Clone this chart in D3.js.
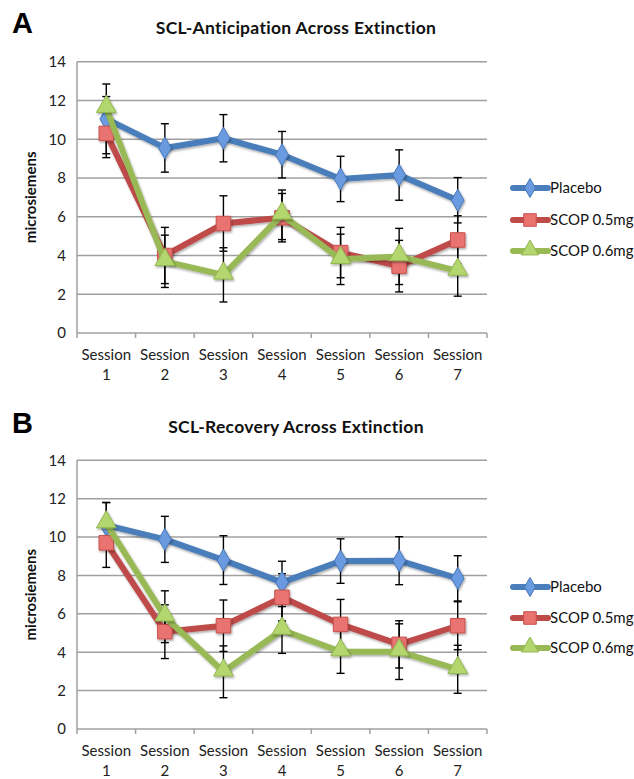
<!DOCTYPE html>
<html>
<head>
<meta charset="utf-8">
<script src="https://cdn.jsdelivr.net/npm/d3@7"></script>
<style>
  body { margin: 0; background: #fff; }
  svg { display: block; font-family: Lato, "Open Sans", sans-serif; }
</style>
</head>
<body>
<div id="chart"></div>
<script>
const sessions = ['1', '2', '3', '4', '5', '6', '7'];
const seriesNames = ['Placebo', 'SCOP 0.5mg', 'SCOP 0.6mg'];
const yTicks = [0, 2, 4, 6, 8, 10, 12, 14];

// Panel A: SCL-Anticipation
const antPlacebo = [11.05, 9.55, 10.05, 9.2, 7.95, 8.15, 6.85];
const antPlaceboErr = [1.8, 1.25, 1.22, 1.2, 1.17, 1.3, 1.17];
const antScop05 = [10.3, 4.0, 5.65, 5.95, 4.15, 3.45, 4.8];
const antScop05Err = [1.25, 1.45, 1.43, 1.25, 1.3, 1.33, 1.25];
const antScop06 = [11.6, 3.7, 3.0, 6.1, 3.8, 3.95, 3.2];
const antScop06Err = [0.6, 1.35, 1.4, 1.28, 1.3, 1.45, 1.3];

// Panel B: SCL-Recovery
const recPlacebo = [10.62, 9.88, 8.8, 7.64, 8.75, 8.77, 7.85];
const recPlaceboErr = [1.18, 1.2, 1.27, 1.1, 1.16, 1.25, 1.18];
const recScop05 = [9.7, 5.07, 5.38, 6.86, 5.45, 4.41, 5.38];
const recScop05Err = [1.28, 1.4, 1.34, 1.23, 1.3, 1.23, 1.25];
const recScop06 = [10.7, 5.85, 2.98, 5.16, 4.03, 4.03, 3.11];
const recScop06Err = [1.1, 1.35, 1.35, 1.22, 1.13, 1.45, 1.25];

const colors = ['#4a7ebb', '#be4b48', '#98b954'];
const markerFill = ['#6a9be0', '#e8736f', '#b4d66e'];
const markerStroke = ['#4777b8', '#c9504c', '#93b651'];
const symbols = [d3.symbolDiamond, d3.symbolSquare, d3.symbolTriangle];
const symbolSize = [140, 210, 170];

const panels = [
  { letter: 'A', title: 'SCL-Anticipation Across Extinction',
    values: [antPlacebo, antScop05, antScop06], errs: [antPlaceboErr, antScop05Err, antScop06Err],
    plotTop: 61.7, plotBottom: 333, legendY: [188, 220, 251] },
  { letter: 'B', title: 'SCL-Recovery Across Extinction',
    values: [recPlacebo, recScop05, recScop06], errs: [recPlaceboErr, recScop05Err, recScop06Err],
    plotTop: 460.3, plotBottom: 729, legendY: [587, 618, 648] }
];

const width = 634, height = 779;
const plotLeft = 77, plotRight = 487;

const svg = d3.select('#chart').append('svg')
  .attr('width', width)
  .attr('height', height);

const defs = svg.append('defs');
const shadow = defs.append('filter').attr('id', 'shadow')
  .attr('x', '-30%').attr('y', '-30%').attr('width', '160%').attr('height', '160%');
shadow.append('feDropShadow')
  .attr('dx', 1).attr('dy', 1.5).attr('stdDeviation', 1.2)
  .attr('flood-color', '#000').attr('flood-opacity', 0.35);

panels.forEach((p, pi) => {
  const g = svg.append('g');

  const x = d3.scaleBand()
    .domain(sessions)
    .range([plotLeft, plotRight]);

  const y = d3.scaleLinear()
    .domain([0, 14])
    .range([p.plotBottom, p.plotTop]);

  // panel letter and title
  g.append('text')
    .attr('x', 12)
    .attr('y', pi === 0 ? 33 : 433)
    .style('font-family', '"Liberation Sans", Arial, sans-serif')
    .style('font-weight', 'bold')
    .style('font-size', '29px')
    .text(p.letter);

  g.append('text')
    .attr('x', 296)
    .attr('y', pi === 0 ? 34 : 433)
    .attr('text-anchor', 'middle')
    .style('font-weight', 'bold')
    .style('font-size', '17.5px')
    .style('letter-spacing', '0.3px')
    .style('fill', '#111')
    .text(p.title);

  // grid
  g.append('g')
    .selectAll('line')
    .data(yTicks.filter(t => t > 0))
    .enter()
    .append('line')
    .attr('x1', plotLeft)
    .attr('x2', plotRight)
    .attr('y1', d => y(d))
    .attr('y2', d => y(d))
    .style('stroke', '#a0a0a0')
    .style('stroke-width', 1.5);

  // y axis
  const yAxis = d3.axisLeft(y)
    .tickValues(yTicks)
    .tickSize(5)
    .tickPadding(6);

  const ya = g.append('g')
    .attr('transform', `translate(${plotLeft},0)`)
    .call(yAxis);
  ya.select('.domain').style('stroke', '#a0a0a0').style('stroke-width', 1.5)
    .attr('d', `M0,${p.plotBottom}V${p.plotTop}`);
  ya.selectAll('.tick line').remove();
  ya.selectAll('text')
    .style('font-family', 'Lato, sans-serif')
    .style('font-size', '15px')
    .style('fill', '#222');

  // x axis
  const xa = g.append('g')
    .attr('transform', `translate(0,${p.plotBottom})`);
  xa.append('line')
    .attr('x1', plotLeft).attr('x2', plotRight)
    .style('stroke', '#a0a0a0').style('stroke-width', 1.5);
  const bounds = sessions.map(s => x(s)).concat([plotRight]);
  xa.selectAll('.xtick')
    .data(bounds)
    .enter()
    .append('line')
    .attr('x1', d => d).attr('x2', d => d)
    .attr('y1', 0).attr('y2', 5)
    .style('stroke', '#a0a0a0').style('stroke-width', 1.5);
  const xl = xa.selectAll('.xlabel')
    .data(sessions)
    .enter()
    .append('text')
    .attr('text-anchor', 'middle')
    .attr('x', d => x(d) + x.bandwidth() / 2)
    .style('font-size', '15px')
    .style('fill', '#222');
  xl.append('tspan').attr('x', d => x(d) + x.bandwidth() / 2).attr('y', 27).text('Session');
  xl.append('tspan').attr('x', d => x(d) + x.bandwidth() / 2).attr('y', 47).text(d => d);

  // y label
  g.append('text')
    .attr('transform', `translate(36,${(p.plotTop + p.plotBottom) / 2}) rotate(-90)`)
    .attr('text-anchor', 'middle')
    .style('font-weight', 'bold')
    .style('font-size', '15px')
    .style('fill', '#111')
    .text('microsiemens');

  const cx = d => x(d) + x.bandwidth() / 2;

  // error bars
  p.values.forEach((vals, si) => {
    const errs = p.errs[si];
    const eb = g.append('g').attr('class', 'errbars');
    sessions.forEach((s, i) => {
      const hi = y(vals[i] + errs[i]);
      const lo = y(vals[i] - errs[i]);
      eb.append('line')
        .attr('x1', cx(s)).attr('x2', cx(s))
        .attr('y1', hi).attr('y2', lo)
        .style('stroke', '#000').style('stroke-width', 1.4);
      [hi, lo].forEach(yy => {
        eb.append('line')
          .attr('x1', cx(s) - 4).attr('x2', cx(s) + 4)
          .attr('y1', yy).attr('y2', yy)
          .style('stroke', '#000').style('stroke-width', 1.4);
      });
    });
  });

  // lines and markers
  const line = d3.line()
    .x((d, i) => cx(sessions[i]))
    .y(d => y(d));

  p.values.forEach((vals, si) => {
    g.append('path')
      .datum(vals)
      .attr('d', line)
      .attr('fill', 'none')
      .attr('stroke', colors[si])
      .attr('stroke-width', 6)
      .attr('stroke-linejoin', 'round')
      .attr('filter', 'url(#shadow)');

    g.selectAll(`.m${si}`)
      .data(vals)
      .enter()
      .append('path')
      .attr('d', d3.symbol().type(symbols[si]).size(symbolSize[si]))
      .attr('transform', (d, i) => `translate(${cx(sessions[i])},${y(d) + (si === 2 ? -1.5 : 0)})`)
      .attr('fill', markerFill[si])
      .attr('stroke', markerStroke[si])
      .attr('stroke-width', 1)
      .attr('filter', 'url(#shadow)');
  });

  // legend
  const lg = g.append('g');
  seriesNames.forEach((name, si) => {
    const ly = p.legendY[si];
    lg.append('line')
      .attr('x1', 513).attr('x2', 548)
      .attr('y1', ly).attr('y2', ly)
      .attr('stroke', colors[si])
      .attr('stroke-width', 6)
      .attr('stroke-linecap', 'round');
    lg.append('path')
      .attr('d', d3.symbol().type(symbols[si]).size(symbolSize[si] * 0.75))
      .attr('transform', `translate(530,${ly + (si === 2 ? -1 : 0)})`)
      .attr('fill', markerFill[si])
      .attr('stroke', markerStroke[si])
      .attr('stroke-width', 1);
    lg.append('text')
      .attr('x', 550)
      .attr('y', ly)
      .attr('dy', '0.35em')
      .style('font-size', '15px')
      .style('fill', '#111')
      .text(name);
  });
});
</script>
</body>
</html>
